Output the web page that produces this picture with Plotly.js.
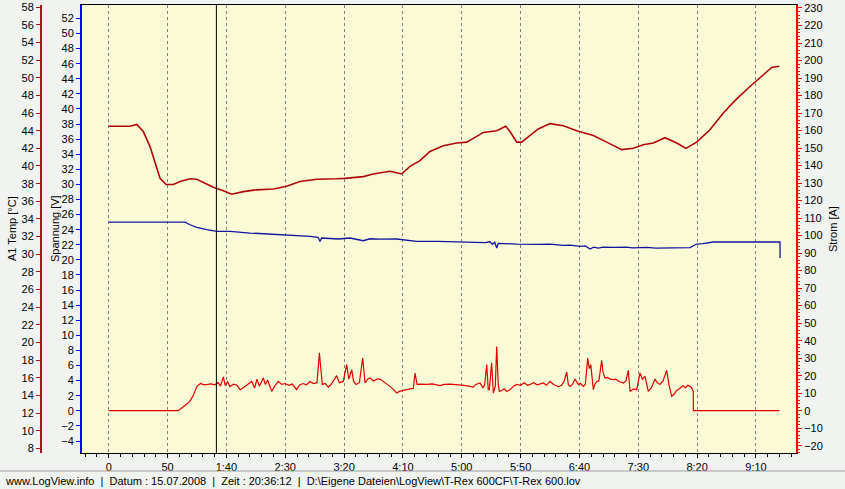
<!DOCTYPE html>
<html>
<head>
<meta charset="utf-8">
<script src="https://cdn.plot.ly/plotly-3.0.1.min.js"></script>
<style>html,body{margin:0;padding:0;background:#F0F3F0;}#chart{width:845px;height:489px;}</style>
</head>
<body>
<div id="chart"></div>
<script>
// ---- data (time in seconds) ----
const xTickVals = [0, 50, 100, 150, 200, 250, 300, 350, 400, 450, 500, 550];
const xTickText = ['0', '50', '1:40', '2:30', '3:20', '4:10', '5:00', '5:50', '6:40', '7:30', '8:20', '9:10'];
const cursorTime = 91.5;

const tempTime = [0, 18.1, 23.8, 29.4, 35.1, 39.3, 43.6, 48.7, 54.9, 60.6, 69.1, 74.8, 81.8, 88.9, 97.4, 104.5, 114.4, 125.8, 139.9, 151.2, 162.5, 176.7, 193.7, 200.8, 216.3, 224.8, 239, 243.3, 249, 256, 264.5, 273, 284.3, 295.7, 304.2, 312.7, 318.3, 329.7, 337.3, 341, 346.7, 350.9, 358, 365, 375, 386.3, 397.7, 411.8, 423.1, 435.9, 445.7, 454.2, 462.7, 472.7, 482.6, 490.5, 499.6, 510.9, 522.2, 533.6, 544.9, 556.2, 563.3, 569.8];
const tempVals = [44.5, 44.5, 44.7, 43.9, 42.2, 40.3, 38.6, 37.9, 37.9, 38.25, 38.55, 38.5, 38.07, 37.6, 37.2, 36.8, 37.1, 37.3, 37.4, 37.7, 38.25, 38.5, 38.55, 38.6, 38.8, 39.1, 39.4, 39.3, 39.1, 39.95, 40.6, 41.65, 42.3, 42.6, 42.7, 43.35, 43.8, 44.0, 44.5, 43.9, 42.7, 42.7, 43.5, 44.2, 44.8, 44.55, 44.0, 43.45, 42.7, 41.85, 42.0, 42.4, 42.6, 43.2, 42.6, 42.0, 42.7, 44.1, 46.0, 47.6, 49.0, 50.3, 51.15, 51.3];

const voltTime = [0, 64.8, 69.1, 74.8, 83.3, 91.8, 103.1, 110, 120.1, 128, 137.1, 145, 154.1, 162, 171, 178, 179.5, 181, 188, 195.1, 205, 210, 216.3, 222, 230, 244.7, 250, 261.7, 280, 300, 312.7, 320, 324, 326, 328, 329.7, 331, 336, 346.7, 365, 375, 386.3, 392, 400.5, 405, 409, 412, 416, 420, 428.8, 440, 445, 457.1, 465, 471.2, 480, 493.9, 499.6, 505, 513.7, 570.4, 570.5];
const voltVals = [25.0, 25.0, 24.66, 24.3, 24.0, 23.77, 23.77, 23.65, 23.56, 23.5, 23.43, 23.4, 23.34, 23.2, 23.11, 23.0, 22.45, 22.9, 22.85, 22.77, 22.9, 22.75, 22.54, 22.8, 22.75, 22.77, 22.65, 22.45, 22.45, 22.42, 22.37, 22.3, 22.4, 22.05, 22.35, 21.57, 22.2, 22.15, 22.1, 22.05, 22.1, 21.92, 21.95, 21.79, 21.85, 21.44, 21.7, 21.55, 21.7, 21.65, 21.7, 21.6, 21.65, 21.55, 21.57, 21.6, 21.62, 22.1, 22.15, 22.37, 22.37, 20.25];

const currTime = [0, 59, 64, 69, 72, 75, 78, 81, 84, 87, 90, 93, 95, 97.4, 99, 101, 103, 106, 109, 111.6, 114, 117, 119, 121.5, 124, 126, 128, 131.4, 133, 135, 138.5, 141, 144.1, 147, 150, 153, 156, 159.7, 162, 165, 168, 171, 174, 177, 179, 180.5, 181.5, 184, 186.6, 189, 191, 193.7, 196, 199.3, 202.2, 204, 206.5, 208, 210.1, 213, 215.8, 217.8, 220, 222, 225, 228, 230.5, 233, 236, 239, 242, 244.7, 247, 250, 253.2, 256, 258.8, 260.3, 262, 265, 270, 275, 281.5, 285, 290, 295, 298.5, 302, 306, 309.8, 312, 315.5, 318, 319.5, 321.2, 322.5, 323.4, 325.4, 326.8, 328.5, 329.7, 331, 331.9, 334, 336, 338.2, 341, 344, 346.7, 350, 353, 356, 358, 361, 364, 367, 369.3, 372, 375, 378, 382.1, 385, 387, 389.2, 390.5, 392, 394, 396.2, 399, 401, 403.3, 405, 407, 408.3, 409.6, 411.8, 413, 414.7, 416.5, 418.9, 420, 421.7, 424, 426, 428.8, 431, 434, 437.3, 439.5, 441.5, 443, 446, 448.6, 451.4, 453.5, 455.7, 458.5, 461, 464.2, 466, 468.4, 471, 474.1, 476, 478.4, 480.5, 482.6, 485, 488.2, 490, 492, 493.9, 495.5, 496.7, 496.8, 570];
const currVals = [0, 0, 2.5, 5.3, 9, 13.9, 15.5, 14.8, 15, 15.3, 14.8, 16, 14, 19.3, 14.5, 16.5, 13.8, 15.2, 14.5, 12, 13, 14.5, 15.5, 16.7, 13, 18, 14, 18.7, 15, 17.5, 11, 14, 16.7, 15, 15.5, 14.5, 15.2, 12, 14.5, 15.5, 14.8, 16.7, 15.5, 16, 33, 20, 15, 15.5, 13.5, 15, 17, 20, 16, 16.7, 26.3, 18, 23.4, 17, 15, 16, 30.1, 15.8, 18, 18.7, 17, 18, 18.1, 17, 15.5, 13.9, 12, 10.1, 11, 11.5, 12.4, 12.5, 12.7, 21.5, 15, 15.2, 15, 15.3, 14.3, 15, 15.2, 15, 15, 14.5, 14, 13.5, 15, 15.8, 13, 15, 26.3, 12, 12, 27.3, 10.1, 14, 36.7, 15, 11, 11.5, 12.5, 11, 12, 14, 15, 14.5, 16, 14.5, 15, 16, 14.8, 15.5, 15.8, 14.5, 16.7, 15, 13.7, 14.5, 17, 22.1, 15, 13.9, 15, 18.1, 15, 15.5, 13.9, 15, 30.1, 24, 26.3, 12, 15, 16.7, 17, 28.8, 22, 18.7, 19, 18, 17.7, 18, 16.5, 15.8, 17, 23, 11, 12.5, 12, 21.5, 18, 19.6, 11, 13, 18.1, 16, 15, 17, 23, 15, 8.2, 9.5, 11.6, 12.5, 14.3, 13, 14.5, 13.9, 13, 11, 0, 0];

const footerText = 'www.LogView.info  |  Datum : 15.07.2008  |  Zeit : 20:36:12  |  D:\\Eigene Dateien\\LogView\\T-Rex 600CF\\T-Rex 600.lov';

// ---- layout geometry ----
const W = 845, H = 489;
const plotL = 82, plotR = 796, plotT = 5, plotB = 453;
const px = v => v / W;
const py = v => (plotB - v) / (plotB - plotT);

const traces = [
  {x: tempTime, y: tempVals, yaxis: 'y2', type: 'scatter', mode: 'lines', line: {color: '#B00808', width: 1.6}, hoverinfo: 'skip'},
  {x: voltTime, y: voltVals, yaxis: 'y', type: 'scatter', mode: 'lines', line: {color: '#1414A0', width: 1.3}, hoverinfo: 'skip'},
  {x: currTime, y: currVals, yaxis: 'y3', type: 'scatter', mode: 'lines', line: {color: '#E00000', width: 1.2}, hoverinfo: 'skip'}
];

const tickFont = {family: 'Liberation Sans, Arial, sans-serif', size: 11, color: '#000'};

const layout = {
  width: W, height: H,
  margin: {l: 0, r: 0, t: plotT, b: H - plotB, pad: 0},
  paper_bgcolor: '#F0F3F0',
  plot_bgcolor: '#FAFAD7',
  showlegend: false,
  font: tickFont,
  xaxis: {
    domain: [px(plotL), px(plotR)],
    range: [-22.7, 584],
    tickmode: 'array', tickvals: xTickVals, ticktext: xTickText,
    ticks: 'outside', ticklen: 4, tickcolor: '#000', tickfont: tickFont,
    showgrid: true, gridcolor: '#808080', griddash: '3px,3px', gridwidth: 1,
    showline: true, linecolor: '#000', linewidth: 1, mirror: true,
    zeroline: false, automargin: false,
    minor: {tickmode: 'linear', tick0: 0, dtick: 10, ticks: 'outside', ticklen: 3, tickcolor: '#000', showgrid: false}
  },
  yaxis: {
    range: [-5.59, 53.78],
    tickmode: 'linear', tick0: -4, dtick: 2,
    ticks: 'outside', ticklen: 4, tickcolor: '#0000FF', tickfont: tickFont,
    showline: true, linecolor: '#0000FF', linewidth: 2,
    showgrid: false, zeroline: false, automargin: false, side: 'left', anchor: 'x'
  },
  yaxis2: {
    overlaying: 'y', anchor: 'free', position: px(41), side: 'left',
    range: [7.5, 58.23],
    tickmode: 'linear', tick0: 8, dtick: 2,
    ticks: 'outside', ticklen: 4, tickcolor: '#A01818', tickfont: tickFont,
    showline: true, linecolor: '#A01818', linewidth: 2,
    showgrid: false, zeroline: false, automargin: false
  },
  yaxis3: {
    overlaying: 'y', anchor: 'x', side: 'right',
    range: [-24.17, 231.71],
    tickmode: 'linear', tick0: -20, dtick: 10,
    ticks: 'outside', ticklen: 4, tickcolor: '#FF0000', tickfont: tickFont,
    showline: true, linecolor: '#FF0000', linewidth: 2,
    showgrid: false, zeroline: false, automargin: false,
    minor: {tickmode: 'linear', tick0: -20, dtick: 2, ticks: 'outside', ticklen: 2, tickcolor: '#FF0000', showgrid: false}
  },
  shapes: [
    {type: 'line', xref: 'x', yref: 'paper', x0: cursorTime, x1: cursorTime, y0: 0, y1: 1, line: {color: '#000', width: 1}},
    {type: 'line', xref: 'paper', yref: 'paper', x0: 0, x1: 1, y0: py(471), y1: py(471), line: {color: '#A0A0A0', width: 1}}
  ],
  annotations: [
    {text: 'A1 Temp [°C]', xref: 'paper', yref: 'paper', x: px(12), y: 0.5, textangle: -90, showarrow: false, xanchor: 'center', yanchor: 'middle', font: tickFont},
    {text: 'Spannung [V]', xref: 'paper', yref: 'paper', x: px(55), y: 0.5, textangle: -90, showarrow: false, xanchor: 'center', yanchor: 'middle', font: tickFont},
    {text: 'Strom [A]', xref: 'paper', yref: 'paper', x: px(833), y: 0.5, textangle: -90, showarrow: false, xanchor: 'center', yanchor: 'middle', font: tickFont},
    {text: footerText, xref: 'paper', yref: 'paper', x: px(3), y: py(481), showarrow: false, xanchor: 'left', yanchor: 'middle', font: tickFont}
  ]
};

Plotly.newPlot('chart', traces, layout, {staticPlot: true, displayModeBar: false});
</script>
</body>
</html>
